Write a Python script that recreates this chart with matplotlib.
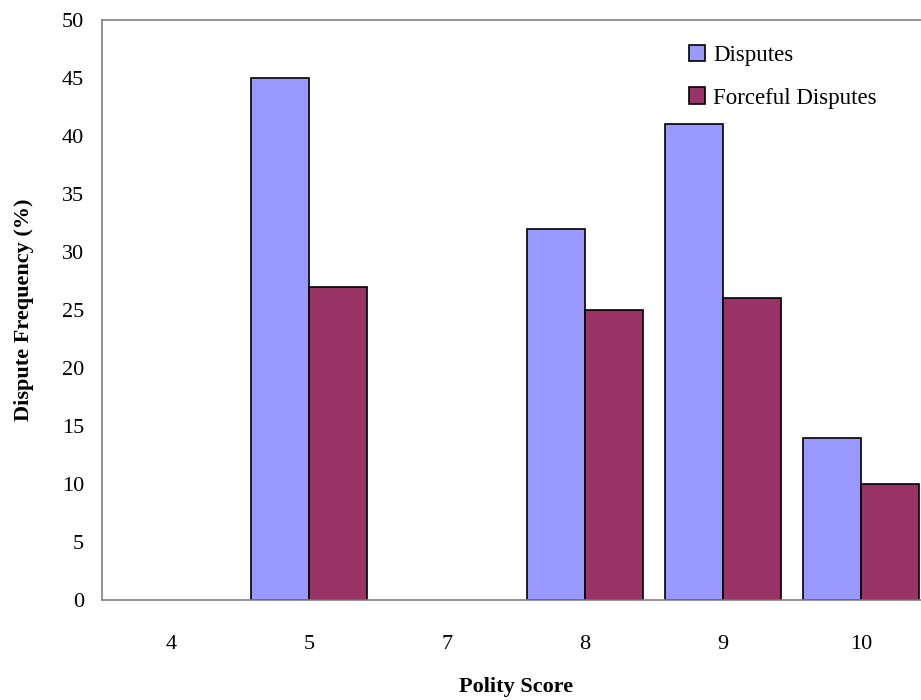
import numpy as np
import matplotlib.pyplot as plt

categories = ['4', '5', '7', '8', '9', '10']
disputes = [0, 45, 0, 32, 41, 14]
forceful = [0, 27, 0, 25, 26, 10]

plt.rcParams['font.family'] = ['Liberation Serif', 'DejaVu Serif']

fig = plt.figure(figsize=(9.21, 7), dpi=100)
ax = fig.add_axes([102 / 921, 100 / 700, 828 / 921, 580 / 700])

x = np.arange(len(categories))
w = 0.42
# no outline on empty bars so the baseline stays grey
lw_d = [1.2 if v else 0 for v in disputes]
lw_f = [1.2 if v else 0 for v in forceful]
ax.bar(x - w / 2, disputes, w, color='#9999FF', edgecolor='black', linewidth=lw_d, label='Disputes')
ax.bar(x + w / 2, forceful, w, color='#993366', edgecolor='black', linewidth=lw_f, label='Forceful Disputes')

ax.set_xlim(-0.5, len(categories) - 0.5)
ax.set_ylim(0, 50)
ax.set_yticks(range(0, 51, 5))
ax.set_xticks(x)
ax.set_xticklabels(categories)
ax.tick_params(axis='both', length=0, labelsize=16)
ax.tick_params(axis='x', pad=25)
ax.tick_params(axis='y', pad=13)
for s in ax.spines.values():
    s.set_color('#808080')
    s.set_linewidth(1.2)

ax.set_xlabel('Polity Score', fontsize=16, fontweight='bold', labelpad=17)
ax.set_ylabel('Dispute Frequency (%)', fontsize=16, fontweight='bold', labelpad=20)

leg = ax.legend(loc='upper left', bbox_to_anchor=(0.684, 0.993), frameon=False, fontsize=16.5,
                handlelength=0.7, handleheight=0.7, handletextpad=0.35, labelspacing=0.95)
for h in leg.legend_handles:
    h.set_linewidth(1.2)

fig.savefig('out.png', dpi=100)
